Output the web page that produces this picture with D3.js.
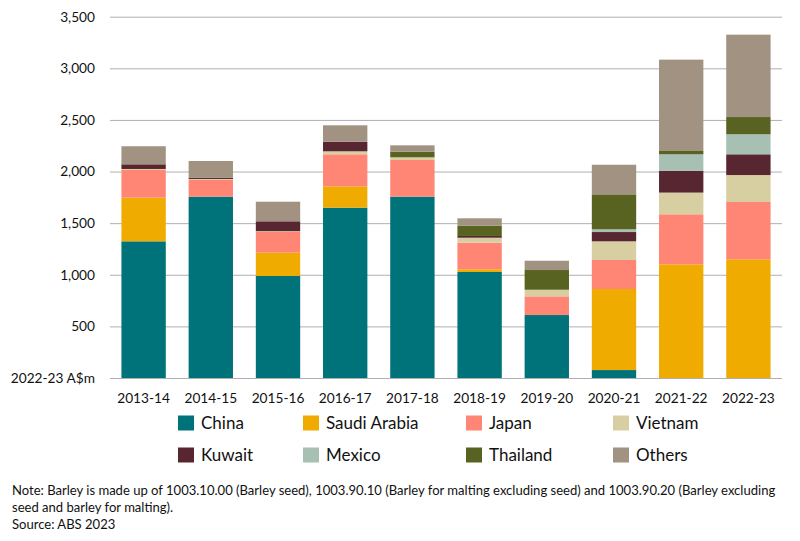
<!DOCTYPE html>
<html>
<head>
<meta charset="utf-8">
<script src="https://cdn.jsdelivr.net/npm/d3@7"></script>
<style>
  body { margin: 0; background: #fff; }
  svg { display: block; }
  text { font-family: Lato, "Open Sans", sans-serif; fill: #111; }
</style>
</head>
<body>
<svg id="chart" width="800" height="541"></svg>
<script>
// ---- Data (2022-23 A$m) ----
const years = ["2013-14","2014-15","2015-16","2016-17","2017-18","2018-19","2019-20","2020-21","2021-22","2022-23"];
const seriesNames = ["China","Saudi Arabia","Japan","Vietnam","Kuwait","Mexico","Thailand","Others"];
const china    = [1324, 1757,  988, 1650, 1757, 1027, 610,  77,    0,    0];
const saudi    = [ 423,    0,  226,  207,    0,   26,   0, 785, 1101, 1150];
const japan    = [ 268,  161,  203,  310,  355,  258, 181, 281,  485,  555];
const vietnam  = [  10,   10,    5,   29,   26,   48,  64, 181,  210,  261];
const kuwait   = [  45,   13,   96,   93,    0,   17,   0,  90,  212,  201];
const mexico   = [   0,    0,    0,    0,    0,    0,   0,  26,  159,  194];
const thailand = [   0,    0,    0,    0,   54,  100, 191, 339,   38,  167];
const others   = [ 175,  161,  190,  159,   62,   71,  90, 287,  879,  798];
const yTicks = [0, 500, 1000, 1500, 2000, 2500, 3000, 3500];
const yUnitLabel = "2022-23 A$m";
const colors = ["#00737A","#F0AB00","#FF8674","#D7CFA1","#582630","#A8C0B4","#586321","#A19282"];
const noteLines = [
  "Note: Barley is made up of 1003.10.00 (Barley seed), 1003.90.10 (Barley for malting excluding seed) and 1003.90.20 (Barley excluding",
  "seed and barley for malting).",
  "Source: ABS 2023"
];

// ---- Build table ----
const seriesValues = [china, saudi, japan, vietnam, kuwait, mexico, thailand, others];
const table = years.map((y, i) => {
  const row = { year: y };
  seriesNames.forEach((s, j) => row[s] = seriesValues[j][i]);
  return row;
});

const svg = d3.select("#chart");
const plot = { left: 110, right: 782, top: 16.7, bottom: 378 };

const x = d3.scaleBand().domain(years).range([plot.left, plot.right]).paddingInner(0.34).paddingOuter(0.17);
const y = d3.scaleLinear().domain([0, 3500]).range([plot.bottom, plot.top]);
const color = d3.scaleOrdinal().domain(seriesNames).range(colors);

// Y axis with gridlines
const yAxis = d3.axisLeft(y)
  .tickValues(yTicks)
  .tickSize(-(plot.right - plot.left))
  .tickPadding(15)
  .tickFormat(d => d === 0 ? yUnitLabel : d3.format(",")(d));
const gy = svg.append("g").attr("transform", `translate(${plot.left},0)`).call(yAxis);
gy.select(".domain").remove();
gy.selectAll(".tick line").attr("stroke", "#b0b0b0").attr("stroke-width", 1);
gy.selectAll(".tick text").style("font-size", "13.7px").attr("fill", "#111");

// Stacked bars
const stack = d3.stack().keys(seriesNames);
const stacked = stack(table);
svg.append("g").selectAll("g")
  .data(stacked)
  .join("g")
  .attr("fill", d => color(d.key))
  .selectAll("rect")
  .data(d => d)
  .join("rect")
  .attr("x", d => x(d.data.year))
  .attr("width", x.bandwidth())
  .attr("y", d => y(d[1]))
  .attr("height", d => Math.max(0, y(d[0]) - y(d[1])));

// X axis
const xAxis = d3.axisBottom(x).tickSize(0).tickPadding(15);
const gx = svg.append("g").attr("transform", `translate(0,${plot.bottom})`).call(xAxis);
gx.select(".domain").remove();
gx.selectAll(".tick text").style("font-size", "13.7px").attr("fill", "#111");

// Legend
const legendCols = [178, 303, 466, 613];
const legendRows = [423, 455];
const lg = svg.append("g");
seriesNames.forEach((name, i) => {
  const cx = legendCols[i % 4];
  const cy = legendRows[Math.floor(i / 4)];
  lg.append("rect").attr("x", cx).attr("y", cy - 7.5).attr("width", 16).attr("height", 15).attr("fill", color(name));
  lg.append("text").attr("x", cx + 23).attr("y", cy).attr("dy", "0.35em")
    .style("font-size", "17px").text(name);
});

// Notes
const ng = svg.append("g");
noteLines.forEach((t, i) => {
  ng.append("text").attr("x", 12).attr("y", 490 + i * 17.2).attr("dy", "0.35em")
    .style("font-size", "13.05px").text(t);
});
</script>
</body>
</html>
